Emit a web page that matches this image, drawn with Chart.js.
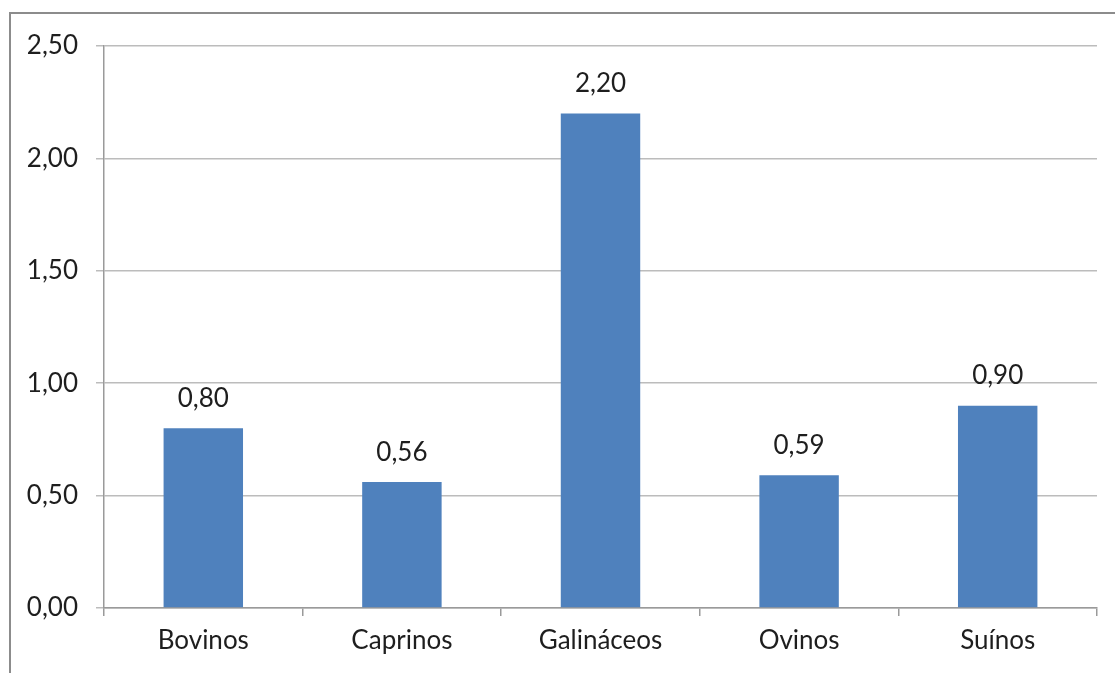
<!DOCTYPE html>
<html>
<head>
<meta charset="utf-8">
<script src="https://cdn.jsdelivr.net/npm/chart.js@4"></script>
<style>
  html, body { margin: 0; padding: 0; background: #fff; }
  body { width: 1115px; height: 673px; overflow: hidden; position: relative; }
  #frame {
    position: absolute; left: 9px; top: 12px; width: 1200px; height: 800px;
    border: 2px solid #8c8c8c; box-sizing: border-box;
  }
  #wrap { position: absolute; left: 0; top: 0; width: 1115px; height: 673px; }
</style>
</head>
<body>
<div id="frame"></div>
<div id="wrap"><canvas id="c" width="1115" height="673"></canvas></div>
<script>
// Categories and values
const categories = ['Bovinos', 'Caprinos', 'Galináceos', 'Ovinos', 'Suínos'];
const values = [0.80, 0.56, 2.20, 0.59, 0.90];
const yTicks = [0, 0.5, 1.0, 1.5, 2.0, 2.5];

const fmt = v => v.toFixed(2).replace('.', ',');
const FONT = 'Lato';
const SIZE = 26;
const TEXT = '#1e1e1e';

// Value labels above each bar
const valueLabels = {
  id: 'valueLabels',
  afterDatasetsDraw(chart) {
    const ctx = chart.ctx;
    const meta = chart.getDatasetMeta(0);
    ctx.save();
    ctx.font = SIZE + 'px ' + FONT;
    ctx.fillStyle = TEXT;
    ctx.textAlign = 'center';
    ctx.textBaseline = 'middle';
    meta.data.forEach((bar, i) => {
      ctx.fillText(fmt(values[i]), bar.x, bar.y - 30);
    });
    ctx.restore();
  }
};

new Chart(document.getElementById('c'), {
  type: 'bar',
  data: {
    labels: categories,
    datasets: [{
      data: values,
      backgroundColor: '#4F81BD',
      borderWidth: 0,
      barPercentage: 0.4,
      categoryPercentage: 1.0
    }]
  },
  options: {
    responsive: false,
    animation: false,
    layout: { padding: { left: 0, right: 18, top: 46, bottom: 0 } },
    plugins: { legend: { display: false }, tooltip: { enabled: false } },
    scales: {
      x: {
        grid: {
          drawOnChartArea: false, drawTicks: true, tickLength: 8,
          color: '#9a9a9a', lineWidth: 1.5, offset: true
        },
        border: { color: '#9a9a9a', width: 1.5 },
        ticks: { font: { family: FONT, size: SIZE }, color: TEXT, padding: 9, maxRotation: 0 },
        afterFit(scale) { scale.height = 65; }
      },
      y: {
        min: 0, max: 2.5,
        afterBuildTicks(scale) { scale.ticks = yTicks.map(v => ({ value: v })); },
        grid: { color: '#bcbcbc', lineWidth: 1.5, tickLength: 8, drawTicks: true },
        border: { color: '#9a9a9a', width: 1.5 },
        ticks: {
          font: { family: FONT, size: SIZE }, color: TEXT, padding: 18,
          callback: v => fmt(v)
        },
        afterFit(scale) { scale.width = 104; }
      }
    }
  },
  plugins: [valueLabels]
});
</script>
</body>
</html>
